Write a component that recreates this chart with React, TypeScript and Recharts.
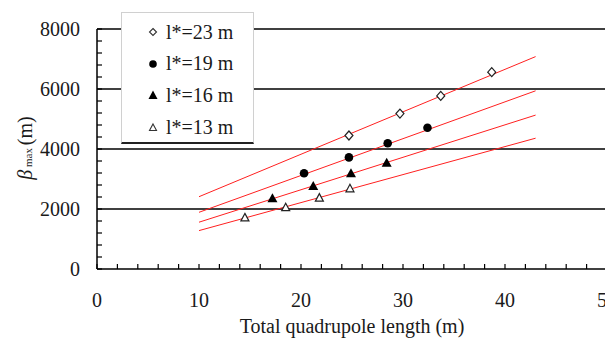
import {
  ScatterChart,
  Scatter,
  XAxis,
  YAxis,
  ReferenceLine,
  Label,
} from 'recharts'

// measured points, one pair of arrays per l* value
const l23X = [24.7, 29.7, 33.7, 38.7]
const l23Y = [4450, 5180, 5770, 6560]
const l19X = [20.3, 24.7, 28.5, 32.4]
const l19Y = [3190, 3720, 4190, 4710]
const l16X = [17.2, 21.2, 24.9, 28.4]
const l16Y = [2360, 2770, 3190, 3540]
const l13X = [14.5, 18.5, 21.8, 24.8]
const l13Y = [1720, 2060, 2380, 2690]

// linear fits, drawn from x = 10 to 43
const fitX = [10, 43]
const fit23 = [2410, 7080]
const fit19 = [1890, 5940]
const fit16 = [1560, 5130]
const fit13 = [1280, 4360]

const xTicks = [0, 2, 4, 6, 8, 10, 12, 14, 16, 18, 20, 22, 24, 26, 28, 30, 32, 34, 36, 38, 40, 42, 44, 46, 48, 50]
const xLabels = [0, 10, 20, 30, 40, 50]
const yTicks = [0, 400, 800, 1200, 1600, 2000, 2400, 2800, 3200, 3600, 4000, 4400, 4800, 5200, 5600, 6000, 6400, 6800, 7200, 7600, 8000]
const yLabels = [0, 2000, 4000, 6000, 8000]
const gridValues = [2000, 4000, 6000, 8000]

const legendLabels = ['l*=23 m', 'l*=19 m', 'l*=16 m', 'l*=13 m']

const FONT = "'Liberation Serif', Tinos, 'DejaVu Serif', serif"
const TEXT = '#1a1a1a'
const FIT = '#ff2020'

function toPoints(xs: number[], ys: number[]) {
  return xs.map((x, i) => ({ x, y: ys[i] }))
}

type ShapeProps = { cx?: number; cy?: number }

function OpenDiamond({ cx = 0, cy = 0 }: ShapeProps) {
  return (
    <path
      d={`M${cx},${cy - 4.5}L${cx + 4},${cy}L${cx},${cy + 4.5}L${cx - 4},${cy}Z`}
      fill="#fff"
      stroke="#222"
      strokeWidth={1.2}
    />
  )
}

function FilledCircle({ cx = 0, cy = 0 }: ShapeProps) {
  return <circle cx={cx} cy={cy} r={4.3} fill="#000" />
}

function FilledTriangle({ cx = 0, cy = 0 }: ShapeProps) {
  return <path d={`M${cx},${cy - 5}L${cx + 5},${cy + 4}L${cx - 5},${cy + 4}Z`} fill="#000" />
}

function OpenTriangle({ cx = 0, cy = 0 }: ShapeProps) {
  return (
    <path
      d={`M${cx},${cy - 4}L${cx + 4},${cy + 3.5}L${cx - 4},${cy + 3.5}Z`}
      fill="#fff"
      stroke="#222"
      strokeWidth={1.2}
    />
  )
}

function NoShape() {
  return <g />
}

function legendMarker(index: number) {
  if (index === 0)
    return <path d="M5,1.5L8.5,5L5,8.5L1.5,5Z" fill="#fff" stroke="#333" strokeWidth={1.1} />
  if (index === 1) return <circle cx={5} cy={5} r={3.8} fill="#000" />
  if (index === 2) return <path d="M5,0.5L9.5,9L0.5,9Z" fill="#000" />
  return <path d="M5,2L8.5,8.5L1.5,8.5Z" fill="#fff" stroke="#333" strokeWidth={1.1} />
}

function xTickFormat(v: number) {
  return xLabels.includes(v) ? String(v) : ''
}

function yTickFormat(v: number) {
  return yLabels.includes(v) ? String(v) : ''
}

function YTitle() {
  return (
    <text
      x={24}
      y={140}
      transform="rotate(-90 24 140)"
      textAnchor="middle"
      style={{ fontFamily: FONT }}
      fill={TEXT}
      fontSize={20}
    >
      <tspan fontStyle="italic">β</tspan>
      <tspan fontSize={11}> max </tspan>
      <tspan>(m)</tspan>
    </text>
  )
}

export default function App() {
  const tickStyle = { fontSize: 20, fill: TEXT, fontFamily: FONT }

  return (
    <div style={{ position: 'relative', width: 605, height: 332, fontFamily: FONT }}>
      <ScatterChart width={605} height={332} margin={{ top: 21, right: 6, bottom: 41, left: 29 }} style={{ fontFamily: FONT }}>
        <XAxis
          type="number"
          dataKey="x"
          domain={[0, 50]}
          ticks={xTicks}
          tickFormatter={xTickFormat}
          interval={0}
          tickSize={-5}
          tickMargin={29}
          height={30}
          tick={tickStyle}
          axisLine={{ stroke: '#000', strokeWidth: 1.5 }}
          tickLine={{ stroke: '#000', strokeWidth: 1.2 }}
        >
          <Label
            value="Total quadrupole length (m)"
            position="bottom"
            offset={20}
            style={{ fontSize: 20, fill: TEXT, fontFamily: FONT }}
          />
        </XAxis>
        <YAxis
          type="number"
          dataKey="y"
          domain={[0, 8000]}
          ticks={yTicks}
          tickFormatter={yTickFormat}
          interval={0}
          tickSize={-5}
          tickMargin={22}
          width={60}
          tick={tickStyle}
          axisLine={{ stroke: '#000', strokeWidth: 1.5 }}
          tickLine={{ stroke: '#000', strokeWidth: 1.2 }}
        >
          <Label content={<YTitle />} />
        </YAxis>
        {gridValues.map((v) => (
          <ReferenceLine key={v} y={v} stroke="#000" strokeWidth={1.5} />
        ))}
        <Scatter data={toPoints(fitX, fit23)} line={{ stroke: FIT, strokeWidth: 1 }} shape={<NoShape />} isAnimationActive={false} />
        <Scatter data={toPoints(fitX, fit19)} line={{ stroke: FIT, strokeWidth: 1 }} shape={<NoShape />} isAnimationActive={false} />
        <Scatter data={toPoints(fitX, fit16)} line={{ stroke: FIT, strokeWidth: 1 }} shape={<NoShape />} isAnimationActive={false} />
        <Scatter data={toPoints(fitX, fit13)} line={{ stroke: FIT, strokeWidth: 1 }} shape={<NoShape />} isAnimationActive={false} />
        <Scatter data={toPoints(l23X, l23Y)} shape={<OpenDiamond />} isAnimationActive={false} />
        <Scatter data={toPoints(l19X, l19Y)} shape={<FilledCircle />} isAnimationActive={false} />
        <Scatter data={toPoints(l16X, l16Y)} shape={<FilledTriangle />} isAnimationActive={false} />
        <Scatter data={toPoints(l13X, l13Y)} shape={<OpenTriangle />} isAnimationActive={false} />
      </ScatterChart>
      <div
        style={{
          position: 'absolute',
          left: 113,
          top: 4,
          width: 131,
          height: 129,
          background: '#fff',
          border: '1px solid #d0d0d0',
          borderBottom: '2px solid #222',
          fontSize: 20,
          color: TEXT,
        }}
      >
        {legendLabels.map((label, i) => (
          <div
            key={label}
            style={{ position: 'absolute', left: 26, top: 5 + i * 31.7, height: 28, display: 'flex', alignItems: 'center' }}
          >
            <svg width={10} height={10} style={{ marginRight: 8 }}>
              {legendMarker(i)}
            </svg>
            <span>{label}</span>
          </div>
        ))}
      </div>
    </div>
  )
}
